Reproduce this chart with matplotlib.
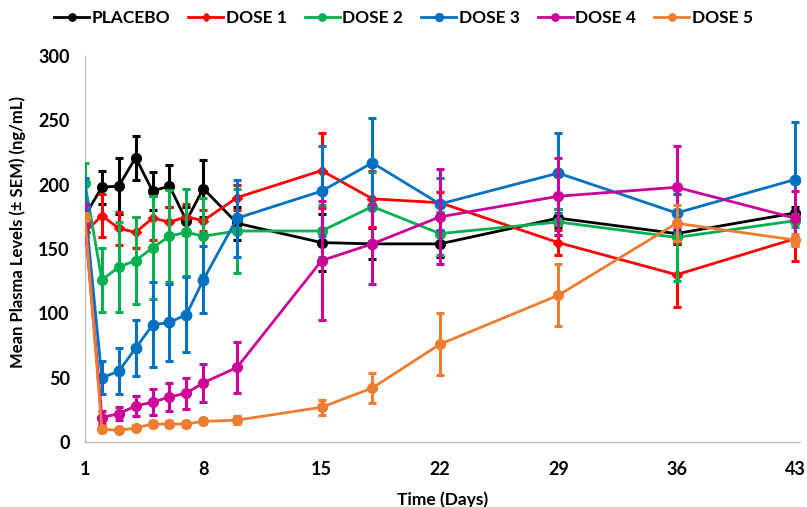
import matplotlib
matplotlib.use("Agg")
import matplotlib.pyplot as plt
from matplotlib.lines import Line2D

plt.rcParams['font.family'] = ['Lato', 'DejaVu Sans']
plt.rcParams['font.weight'] = 'bold'

days = [1, 2, 3, 4, 5, 6, 7, 8, 10, 15, 18, 22, 29, 36, 43]
x_ticks = [1, 8, 15, 22, 29, 36, 43]
y_ticks = [0, 50, 100, 150, 200, 250, 300]

placebo = [176, 198, 199, 221, 195, 199, 172, 197, 170, 155, 154, 154, 174, 162, 178]
placebo_sem = [5, 13, 22, 17, 15, 16, 11, 22, 13, 22, 12, 10, 7, 8, 5]

dose1 = [163, 176, 166, 163, 174, 171, 175, 172, 190, 211, 189, 186, 155, 130, 158]
dose1_sem = [4, 17, 13, 12, 17, 12, 10, 8, 10, 29, 22, 8, 10, 25, 17]

dose2 = [201, 126, 136, 141, 151, 160, 163, 160, 164, 164, 183, 162, 171, 159, 172]
dose2_sem = [16, 25, 35, 34, 40, 36, 34, 30, 33, 20, 27, 17, 10, 34, 5]

dose3 = [183, 50, 55, 73, 91, 93, 99, 126, 174, 195, 217, 185, 209, 178, 204]
dose3_sem = [22, 13, 18, 22, 33, 30, 29, 26, 30, 35, 35, 20, 31, 15, 45]

dose4 = [170, 19, 22, 28, 31, 35, 38, 46, 58, 141, 154, 175, 191, 198, 174]
dose4_sem = [15, 5, 5, 8, 10, 11, 12, 15, 20, 46, 31, 37, 30, 32, 21]

dose5 = [175, 10, 9, 11, 14, 14, 14, 16, 17, 27, 42, 76, 114, 170, 157]
dose5_sem = [3, 2, 1, 2, 2, 2, 2, 2, 3, 6, 12, 24, 24, 14, 5]

series = [
    ("PLACEBO", placebo, placebo_sem, "#000000", "o", 7),
    ("DOSE 1", dose1, dose1_sem, "#FF0000", "D", 5),
    ("DOSE 2", dose2, dose2_sem, "#00B050", "o", 7),
    ("DOSE 3", dose3, dose3_sem, "#0070C0", "o", 7.5),
    ("DOSE 4", dose4, dose4_sem, "#CC0099", "o", 7),
    ("DOSE 5", dose5, dose5_sem, "#ED7D31", "o", 7),
]

fig = plt.figure(figsize=(8.07, 5.07), dpi=100)
ax = fig.add_axes([0.1053, 0.1282, 0.8860, 0.7613])

handles = []
for i, (name, vals, sem, col, mk, ms) in enumerate(series):
    ax.errorbar(days, vals, yerr=sem, color=col, ecolor=col, elinewidth=2.2,
                capsize=3.2, capthick=2.2, linewidth=2.0, marker=mk,
                markersize=ms, zorder=3 + i)
    handles.append(Line2D([0], [0], color=col, linewidth=2.0, marker=mk,
                          markersize=ms * 0.75, label=name))

ax.set_xlim(1, 43.3)
ax.set_ylim(0, 300)
ax.set_xticks(x_ticks)
ax.set_yticks(y_ticks)
ax.tick_params(axis='x', length=0, labelsize=13, pad=14)
ax.tick_params(axis='y', length=0, labelsize=13, pad=11)
for lab in ax.get_xticklabels() + ax.get_yticklabels():
    lab.set_fontweight('bold')

for s in ['top', 'right']:
    ax.spines[s].set_visible(False)
ax.spines['left'].set_color('#BFBFBF')
ax.spines['bottom'].set_color('#BFBFBF')
ax.spines['left'].set_linewidth(1.0)
ax.spines['bottom'].set_linewidth(1.0)

ax.set_xlabel("Time (Days)", fontsize=12.5, fontweight='bold', labelpad=9)
ax.set_ylabel("Mean Plasma Levels (± SEM) (ng/mL)", fontsize=12, fontweight='bold')
ax.yaxis.set_label_coords(-0.083, 0.545)

fig.legend(handles=handles, loc='center', bbox_to_anchor=(0.5, 0.965), ncol=6, frameon=False,
           handlelength=2.0, columnspacing=1.05, handletextpad=0.15,
           prop={'weight': 'bold', 'size': 12.5, 'family': ['Lato', 'DejaVu Sans']})

fig.savefig("out.png", dpi=100)
